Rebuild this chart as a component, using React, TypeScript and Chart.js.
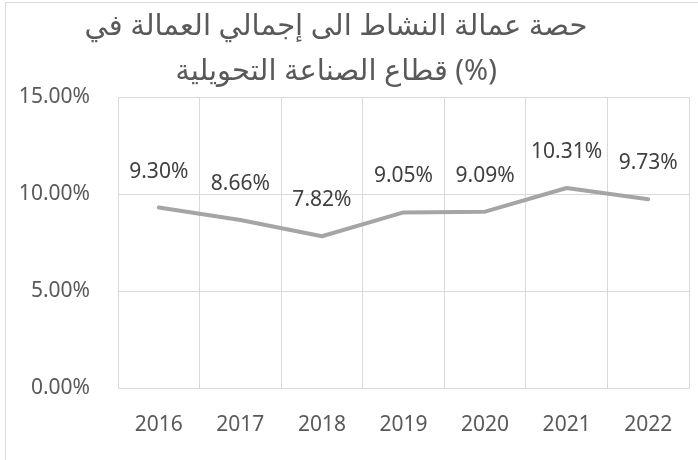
import React, { useEffect, useRef } from "react";
import { Chart, registerables } from "chart.js";

Chart.register(...registerables);

const titleLines = [
  "حصة عمالة النشاط الى إجمالي العمالة في",
  "قطاع الصناعة التحويلية (%)",
];
const years = ["2016", "2017", "2018", "2019", "2020", "2021", "2022"];
const shares = [9.3, 8.66, 7.82, 9.05, 9.09, 10.31, 9.73];
const yTicks = [0, 5, 10, 15];

const FONT = "'Noto Sans', 'DejaVu Sans', sans-serif";

const dataLabels = {
  id: "dataLabels",
  afterDatasetsDraw(chart: any) {
    const ctx = chart.ctx;
    const meta = chart.getDatasetMeta(0);
    ctx.save();
    ctx.font = `21px ${FONT}`;
    ctx.fillStyle = "#404040";
    ctx.textAlign = "center";
    ctx.textBaseline = "middle";
    meta.data.forEach((pt: any, i: number) => {
      ctx.fillText(shares[i].toFixed(2) + "%", pt.x, pt.y - 36);
    });
    ctx.restore();
  },
};

export default function App() {
  const ref = useRef<HTMLCanvasElement>(null);
  useEffect(() => {
    if (!ref.current) return;
    const chart = new Chart(ref.current, {
      type: "line",
      data: {
        labels: years,
        datasets: [
          {
            data: shares,
            borderColor: "#a5a5a5",
            borderWidth: 4,
            pointRadius: 0,
            tension: 0,
            borderCapStyle: "round",
            borderJoinStyle: "round",
          },
        ],
      },
      options: {
        responsive: false,
        animation: false,
        devicePixelRatio: 1,
        layout: { padding: { left: 0, right: 9, top: 0, bottom: 0 } },
        plugins: {
          legend: { display: false },
          tooltip: { enabled: false },
          title: {
            display: true,
            text: titleLines,
            color: "#595959",
            font: { size: 29, family: FONT, weight: "normal", lineHeight: 45 / 29 },
            padding: { top: 4, bottom: 3 },
          },
        },
        scales: {
          x: {
            offset: true,
            grid: { color: "#d9d9d9", lineWidth: 1, drawTicks: false, offset: true },
            border: { color: "#d9d9d9" },
            ticks: { color: "#595959", font: { size: 21, family: FONT }, padding: 24, maxRotation: 0 },
            afterFit: (s: any) => {
              s.height = 72;
            },
          },
          y: {
            min: yTicks[0],
            max: yTicks[yTicks.length - 1],
            afterBuildTicks: (s: any) => {
              s.ticks = yTicks.map((v) => ({ value: v }));
            },
            grid: { color: "#d9d9d9", lineWidth: 1, drawTicks: false },
            border: { color: "#d9d9d9" },
            ticks: {
              color: "#595959",
              font: { size: 21, family: FONT },
              padding: 28,
              callback: (v: any) => Number(v).toFixed(2) + "%",
            },
            afterFit: (s: any) => {
              s.width = 135;
            },
          },
        },
      },
      plugins: [dataLabels],
    });
    return () => chart.destroy();
  }, []);

  return (
    <div
      style={{
        position: "fixed",
        left: 0,
        top: 0,
        width: 698,
        height: 460,
        overflow: "hidden",
        background: "#fff",
      }}
    >
      <div
        style={{
          position: "absolute",
          left: 5,
          top: 2,
          width: 720,
          height: 480,
          border: "1px solid #d9d9d9",
          boxSizing: "border-box",
        }}
      />
      <canvas
        ref={ref}
        width={715}
        height={460}
        style={{ position: "absolute", left: -17, top: 0, width: 715, height: 460 }}
      />
    </div>
  );
}
